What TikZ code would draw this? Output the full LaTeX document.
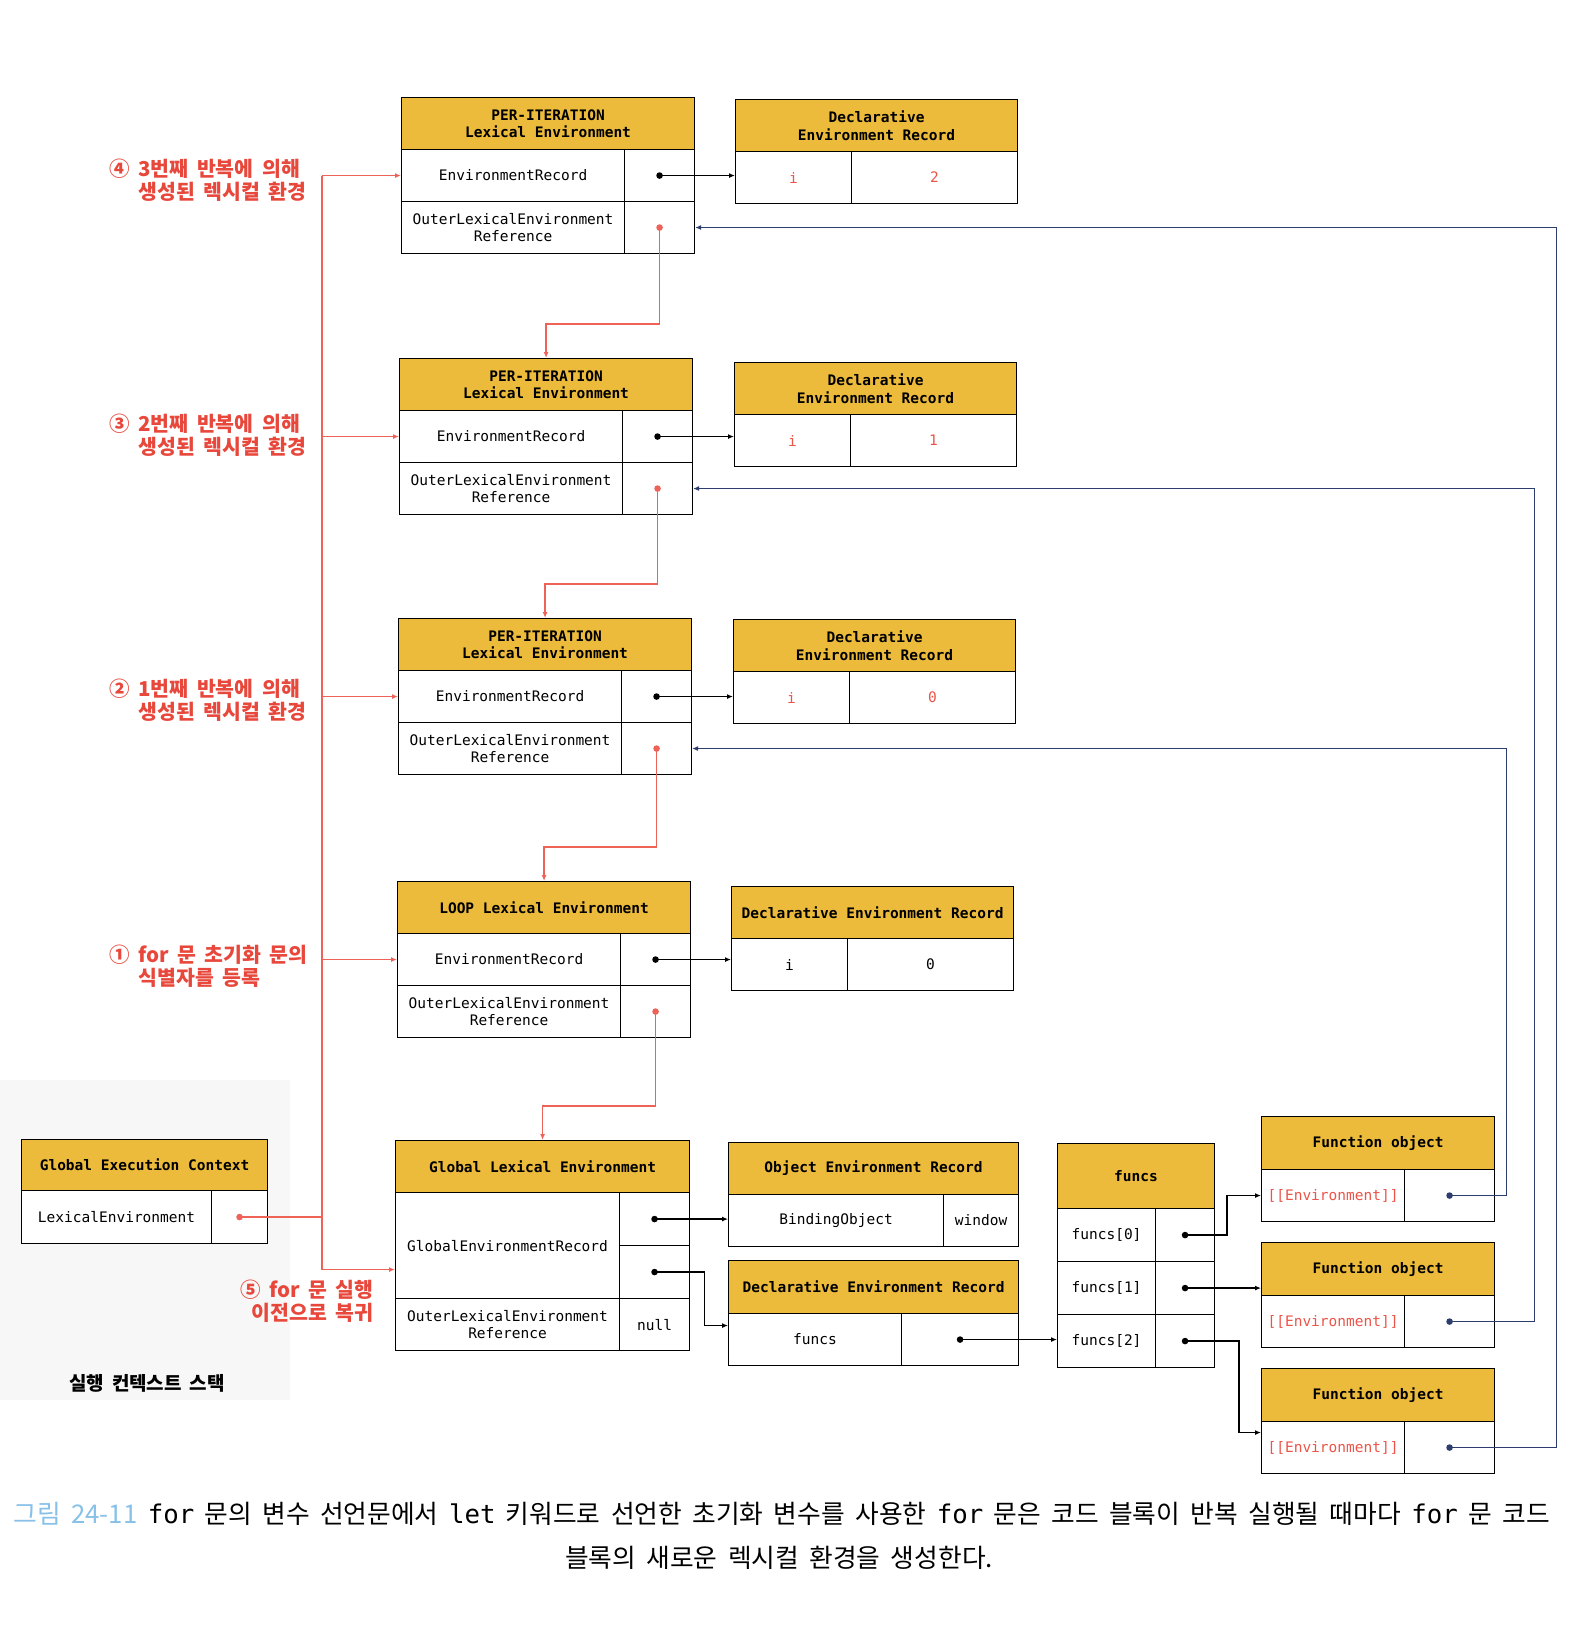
\documentclass[tikz,border=0pt]{standalone}
\usepackage{fontspec}
\setmonofont{DejaVu Sans Mono}
\newfontfamily\kofont[WordSpace=2.9]{Noto Sans CJK KR}
\newfontfamily\capfont[WordSpace=1.8]{Noto Sans CJK KR}
\usetikzlibrary{arrows.meta}

\definecolor{hdryellow}{RGB}{236,187,60}
\definecolor{linkred}{RGB}{238,98,88}
\definecolor{lblred}{RGB}{232,72,60}
\definecolor{txtred}{RGB}{236,84,72}
\definecolor{navyline}{RGB}{45,62,110}
\definecolor{capblue}{RGB}{135,192,232}

\begin{document}
\begin{tikzpicture}[x=1pt, y=-1pt,
    sz/.style 2 args={minimum width=#1, minimum height=#2},
    hdr/.style={draw, line width=1.1pt, fill=hdryellow, anchor=north west, inner sep=0pt,
        align=center, font=\fontsize{14.5}{17.5}\selectfont\ttfamily\bfseries},
    cell/.style={draw, line width=1.1pt, fill=white, anchor=north west, inner sep=0pt,
        align=center, font=\fontsize{14.5}{17.5}\selectfont\ttfamily},
    redline/.style={linkred, line width=1.3pt},
    redarrow/.style={redline, -{Latex[length=6pt,width=5pt]}},
    blkarrow/.style={black, line width=1.3pt, -{Latex[length=6pt,width=5pt]}},
    navyarrow/.style={navyline, line width=1.3pt, -{Latex[length=6pt,width=5pt]}},
    lbl/.style={text=lblred, font=\kofont\bfseries\fontsize{20.5}{23.5}\selectfont, align=left, anchor=west}]
    \useasboundingbox (0,0) rectangle (1588,1644);

    % execution context stack panel
    \fill[black!3] (0,1080) rectangle (290,1400);

    % lexical environments of the loop and their records
    \foreach \n/\lx/\ly/\dx/\dy/\lhd/\dhd/\iv/\vc in {
        1/401/97/735/99/{PER-ITERATION\\Lexical Environment}/{Declarative\\Environment Record}/2/txtred,
        2/399/358/734/362/{PER-ITERATION\\Lexical Environment}/{Declarative\\Environment Record}/1/txtred,
        3/398/618/733/619/{PER-ITERATION\\Lexical Environment}/{Declarative\\Environment Record}/0/txtred,
        4/397/881/731/886/{LOOP Lexical Environment}/{Declarative Environment Record}/0/black} {
        \node[hdr, sz={293pt}{52pt}] (le\n-hdr) at (\lx,\ly) {\lhd};
        \node[cell, sz={223pt}{52pt}] (le\n-rec) at (\lx,\ly+52) {EnvironmentRecord};
        \node[cell, sz={70pt}{52pt}] (le\n-val) at (\lx+223,\ly+52) {};
        \node[cell, sz={223pt}{52pt}] (le\n-out) at (\lx,\ly+104) {OuterLexicalEnvironment\\Reference};
        \node[cell, sz={70pt}{52pt}] (le\n-ptr) at (\lx+223,\ly+104) {};
        \node[hdr, sz={282pt}{52pt}] (dr\n-hdr) at (\dx,\dy) {\dhd};
        \node[cell, sz={116pt}{52pt}, text=\vc] (dr\n-name) at (\dx,\dy+52) {i};
        \node[cell, sz={166pt}{52pt}, text=\vc] (dr\n-val) at (\dx+116,\dy+52) {\iv};
        \fill (le\n-val.center) circle (3.3pt);
        \draw[blkarrow] (le\n-val.center) -- (le\n-val.center -| dr\n-name.west);
    }

    % global execution context
    \node[hdr, sz={246pt}{51pt}] (gec-hdr) at (21,1139) {Global Execution Context};
    \node[cell, sz={190pt}{53pt}] (gec-rec) at (21,1190) {LexicalEnvironment};
    \node[cell, sz={56pt}{53pt}] (gec-ptr) at (211,1190) {};

    % global lexical environment
    \node[hdr, sz={294pt}{52pt}] (gle-hdr) at (395,1140) {Global Lexical Environment};
    \node[cell, sz={224pt}{106pt}] (gle-rec) at (395,1192) {GlobalEnvironmentRecord};
    \node[cell, sz={70pt}{53pt}] (gle-v1) at (619,1192) {};
    \node[cell, sz={70pt}{53pt}] (gle-v2) at (619,1245) {};
    \node[cell, sz={224pt}{52pt}] (gle-out) at (395,1298) {OuterLexicalEnvironment\\Reference};
    \node[cell, sz={70pt}{52pt}] (gle-ptr) at (619,1298) {null};

    % object and declarative records
    \node[hdr, sz={290pt}{52pt}] (oer-hdr) at (728,1142) {Object Environment Record};
    \node[cell, sz={215pt}{52pt}] (oer-name) at (728,1194) {BindingObject};
    \node[cell, sz={75pt}{52pt}] (oer-val) at (943,1194) {window};
    \node[hdr, sz={290pt}{53pt}] (der-hdr) at (728,1260) {Declarative Environment Record};
    \node[cell, sz={173pt}{52pt}] (der-name) at (728,1313) {funcs};
    \node[cell, sz={117pt}{52pt}] (der-val) at (901,1313) {};

    % funcs array
    \node[hdr, sz={157pt}{65pt}] (fn-hdr) at (1057,1143) {funcs};
    \foreach \i in {0,1,2} {
        \node[cell, sz={98pt}{53pt}] (fn\i-name) at (1057,1208+53*\i) {funcs[\i]};
        \node[cell, sz={59pt}{53pt}] (fn\i-val) at (1155,1208+53*\i) {};
    }

    % function objects
    \foreach \i/\y in {0/1116, 1/1242, 2/1368} {
        \node[hdr, sz={233pt}{53pt}] (fo\i-hdr) at (1261,\y) {Function object};
        \node[cell, sz={143pt}{52pt}, text=txtred] (fo\i-env) at (1261,\y+53) {[[Environment]]};
        \node[cell, sz={90pt}{52pt}] (fo\i-ptr) at (1404,\y+53) {};
    }

    % outer references between the loop environments
    \foreach \a/\b in {le1/le2, le2/le3, le3/le4, le4/gle} {
        \fill[linkred] (\a-ptr.center) circle (3.3pt);
        \draw[redarrow] (\a-ptr.center) |- ([yshift=34pt]\b-hdr.north) -- (\b-hdr.north);
    }

    % running context -> current lexical environment
    \coordinate (trunk) at (322,0);
    \coordinate (gle-in) at ([yshift=-24pt]gle-rec.west);
    \fill[linkred] (gec-ptr.center) circle (3.3pt);
    \draw[redline] (gec-ptr.center) -- (gec-ptr.center -| trunk);
    \draw[redline] (le1-rec.west -| trunk) -- (gle-in -| trunk);
    \foreach \t in {le1,le2,le3,le4}
        \draw[redarrow] (\t-rec.west -| trunk) -- (\t-rec.west);
    \draw[redarrow] (gle-in -| trunk) -- (gle-in);

    % global record pointers
    \fill (gle-v1.center) circle (3.3pt);
    \fill (gle-v2.center) circle (3.3pt);
    \draw[blkarrow] (gle-v1.center) -- (gle-v1.center -| oer-name.west);
    \draw[blkarrow] (gle-v2.center) -- ++(50,0) |- ([yshift=14pt]der-name.west);
    \fill (der-val.center) circle (3.3pt);
    \draw[blkarrow] (der-val.center) -- (der-val.center -| fn2-name.west);

    % funcs -> function objects
    \foreach \i in {0,1,2} \fill (fn\i-val.center) circle (3.3pt);
    \draw[blkarrow] (fn0-val.center) -- ++(42,0) |- (fo0-env.west);
    \draw[blkarrow] (fn1-val.center) -- (fn1-val.center -| fo1-env.west);
    \draw[blkarrow] (fn2-val.center) -- ++(54,0) |- ([yshift=15pt]fo2-env.west);

    % [[Environment]] -> per-iteration environments
    \foreach \i/\d/\t in {0/57/le3, 1/85/le2, 2/107/le1} {
        \fill[navyline] (fo\i-ptr.center) circle (3.3pt);
        \draw[navyarrow] (fo\i-ptr.center) -- ++(\d,0) |- (\t-ptr.east);
    }

    % step notes
    \foreach \k/\num/\y/\one/\two in {4/④/180/{3번째 반복에 의해}/{생성된 렉시컬 환경},
        3/③/435/{2번째 반복에 의해}/{생성된 렉시컬 환경},
        2/②/700/{1번째 반복에 의해}/{생성된 렉시컬 환경},
        1/①/966/{for 문 초기화 문의}/{식별자를 등록}}
        \node[lbl] (note\k) at (106,\y) {\num\ \one\\\phantom{\num\ }\two};
    \node[lbl, align=right, anchor=east] (note5) at (377,1301) {⑤ for 문 실행\\이전으로 복귀};
    \node[font=\kofont\bfseries\fontsize{19}{22}\selectfont] (stack) at (147,1383) {실행 컨텍스트 스택};

    % caption
    \node[anchor=west, font=\capfont\fontsize{25.75}{30}\selectfont] (cap1) at (10,1514)
        {\textcolor{capblue}{그림 24-11} {\ttfamily for} 문의 변수 선언문에서 {\ttfamily let} 키워드로 선언한 초기화 변수를 사용한 {\ttfamily for} 문은 코드 블록이 반복 실행될 때마다 {\ttfamily for} 문 코드};
    \node[font=\capfont\fontsize{25.75}{30}\selectfont] (cap2) at (779,1558) {블록의 새로운 렉시컬 환경을 생성한다.};
\end{tikzpicture}
\end{document}
